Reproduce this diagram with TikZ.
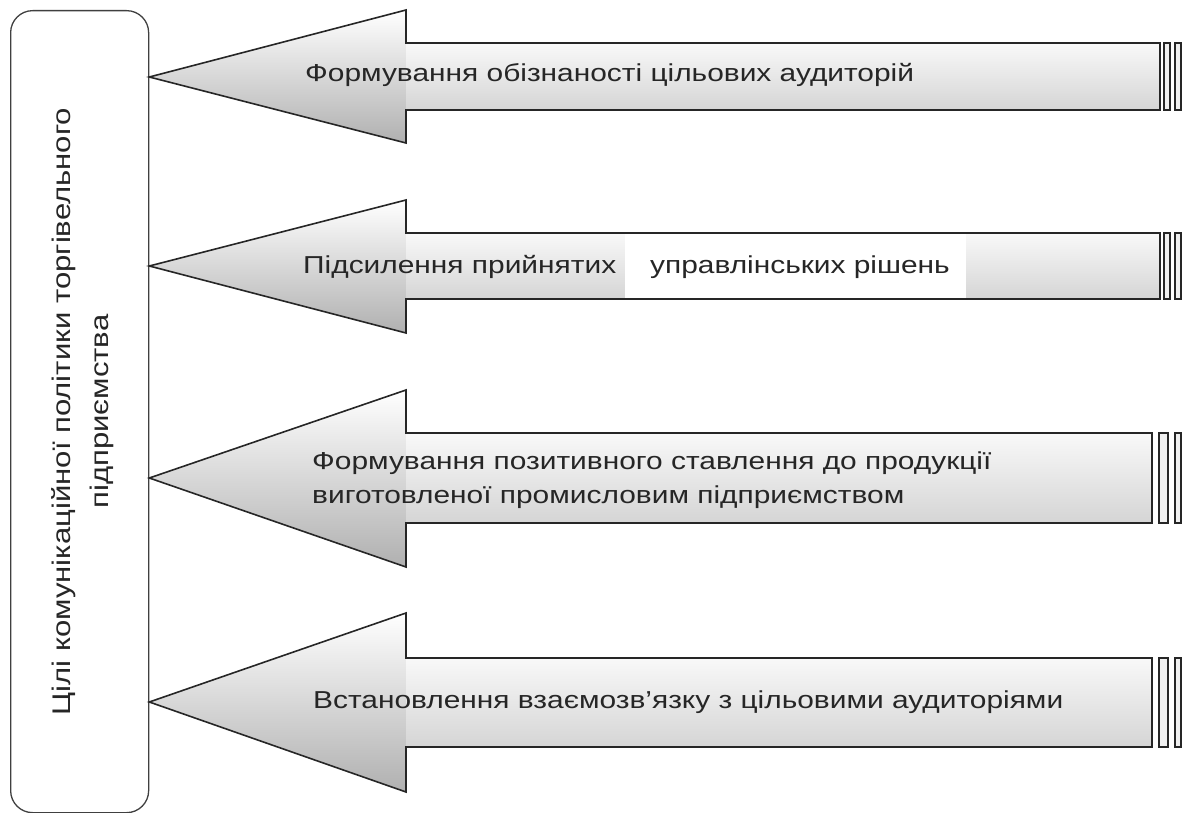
\documentclass[tikz,border=0pt]{standalone}
\usepackage{fontspec}
\setmainfont{Liberation Sans}
\newfontfamily\widesans[FakeStretch=1.22]{Liberation Sans}
\begin{document}
\begin{tikzpicture}[x=1pt,y=-1pt,
  outl/.style={draw=black!85, line width=1.6pt, line join=miter},
  stripe/.style={draw=black!85, line width=1.4pt, fill=gray!12},
  lbl/.style={font=\widesans\fontsize{24.5}{28}\selectfont, text=black!85, inner sep=0pt, anchor=base west},
  goalbox/.style={draw=black!75, line width=1.3pt, rounded corners=22pt, minimum width=138pt, minimum height=802pt, inner sep=0pt},
]
\useasboundingbox (0,0) rectangle (1184,813);
\node[goalbox, anchor=north west] (box) at (10,10) {};
\node[rotate=90, align=center, font=\widesans\fontsize{25.5}{38}\selectfont, text=black!85, inner sep=0pt] (boxtext) at ([xshift=3pt]box.center) {Цілі комунікаційної політики торгівельного\\підприємства};

% #1 name, #2 head top, #3 tip y, #4 head bottom, #5 body top, #6 body bottom, #7 body right, #8 stripe1 left, #9 stripe1 right
\newcommand\goalarrow[9]{%
  \coordinate (#1tip) at (box.east |- 0,#3);
  \coordinate (#1ht) at (406,#2);
  \coordinate (#1hb) at (406,#4);
  \coordinate (#1bt) at (406,#5);
  \coordinate (#1bb) at (406,#6);
  \coordinate (#1rt) at (#7,#5);
  \coordinate (#1rb) at (#7,#6);
  \shade[top color=white, bottom color=gray!62] (#1tip) -- (#1ht) -- (#1hb) -- cycle;
  \shade[top color=gray!5, bottom color=gray!33] (#1bt) rectangle (#1rb);
  \draw[outl] (#1tip) -- (#1ht) -- (#1bt) -- (#1rt) -- (#1rb) -- (#1bb) -- (#1hb) -- cycle;
  \draw[stripe] (#8,#5) rectangle (#9,#6);
  \draw[stripe] (1175,#5) rectangle (1181,#6);
}

\goalarrow{a}{10}{77}{143}{43}{110}{1160}{1164}{1170}
\goalarrow{b}{200}{266}{333}{233}{299}{1160}{1164}{1170}
\goalarrow{c}{390}{478}{567}{433}{523}{1152}{1159}{1168}
\goalarrow{d}{613}{702}{792}{658}{747}{1152}{1159}{1168}
% white patch inside arrow b
\fill[white] (625,234.2) rectangle (966,297.8);

\node[lbl] (ta) at (305,82) {Формування обізнаності цільових аудиторій};
\node[lbl] (tb1) at (303,274) {Підсилення прийнятих};
\node[lbl] (tb2) at (650,274) {управлінських рішень};
\node[lbl] (tc1) at (312,469) {Формування позитивного ставлення до продукції};
\node[lbl] (tc2) at (312,503) {виготовленої промисловим підприємством};
\node[lbl] (td) at (313,708) {Встановлення взаємозв’язку з цільовими аудиторіями};
\end{tikzpicture}
\end{document}
